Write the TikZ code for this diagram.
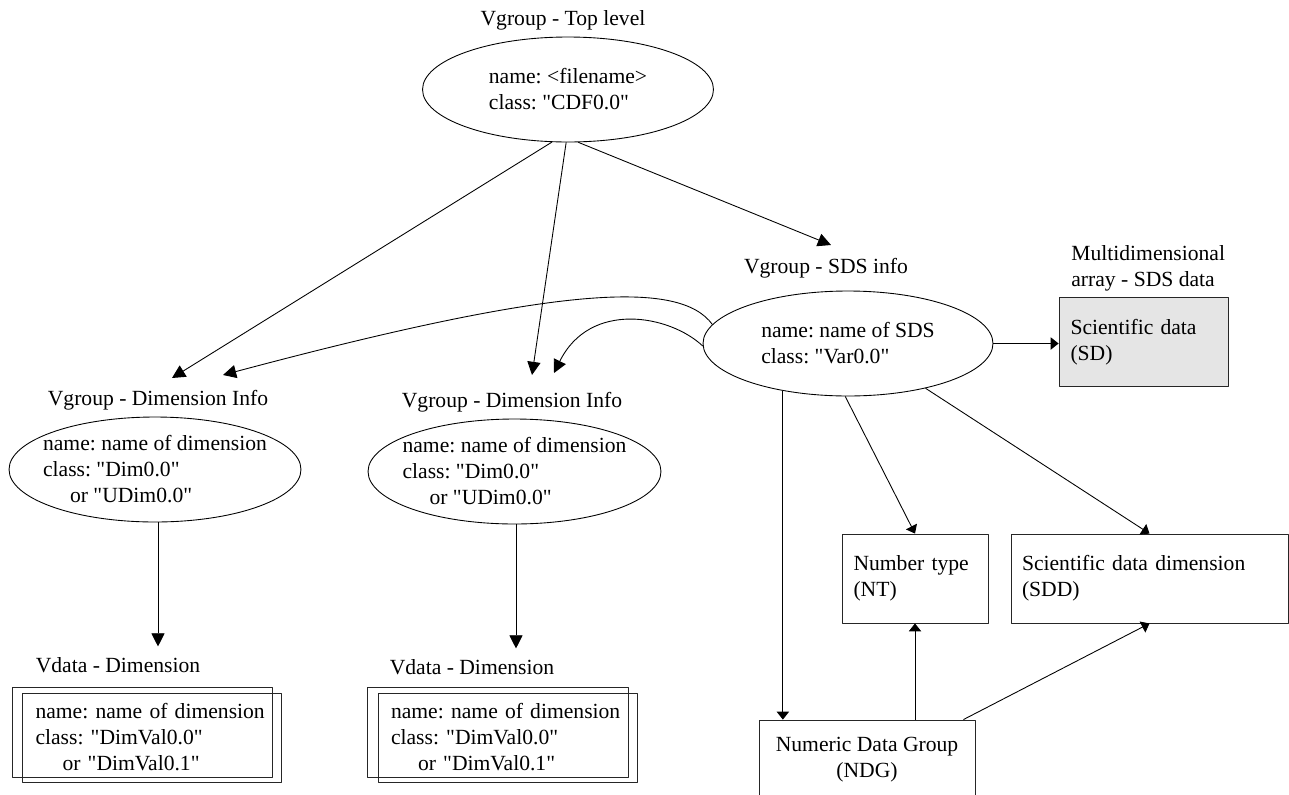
\documentclass[tikz,border=0pt]{standalone}
\usepackage{fontspec}
\setmainfont{Liberation Serif}[Ligatures=TeXOff]
\usetikzlibrary{arrows.meta,calc,shapes.geometric}
\tikzset{
  every node/.style={font=\fontsize{12.3}{14.8}\selectfont\frenchspacing},
  lbl/.style={inner sep=0pt},
  vgroup/.style={draw,ellipse,line width=0.5pt,inner sep=-0.8cm,align=left,
    minimum width=5.82cm,minimum height=2.1cm},
  databox/.style={draw=black!85,line width=0.5pt,align=left,inner ysep=0pt,inner xsep=0.23cm,
    minimum height=1.78cm},
  big/.style={line width=0.5pt,-{Triangle[length=7.5pt,width=7.5pt]}},
  small/.style={line width=0.5pt,-{Triangle[length=4.5pt,width=7pt]}},
}
\begin{document}
\begin{tikzpicture}[x=0.02cm,y=-0.02cm,line join=round]
  \useasboundingbox (0,0) rectangle (1289,795);
  \clip (0,0) rectangle (1289,795);

  \node[lbl] (toplbl) at (563,20) {Vgroup - Top level};
  \node[vgroup] (top) at (568,89.5) {name: <filename>\\class: "CDF0.0"};

  \node[lbl] (sdslbl) at (826,268) {Vgroup - SDS info};
  \node[vgroup,minimum width=5.8cm] (sds) at (848,343.5) {name: name of SDS\\class: "Var0.0"};

  \node[lbl,anchor=west,align=left] (sdlbl) at (1071,268.5) {Multidimensional\\array - SDS data};
  \node[databox,fill=black!10,text width=2.92cm] (sd) at (1143.5,342) {Scientific data\\(SD)};

  \node[lbl] (dim1lbl) at (158,400) {Vgroup - Dimension Info};
  \node[vgroup,minimum width=5.84cm] (dim1) at (155,469.5)
    {name: name of dimension\\class: "Dim0.0"\\\hspace*{0.54cm}or "UDim0.0"};
  \node[lbl] (dim2lbl) at (512,402) {Vgroup - Dimension Info};
  \node[vgroup,minimum width=5.86cm] (dim2) at (514.5,471.5)
    {name: name of dimension\\class: "Dim0.0"\\\hspace*{0.54cm}or "UDim0.0"};

  \node[lbl] (vd1lbl) at (118,665) {Vdata - Dimension};
  \node[databox,inner xsep=0.26cm,text width=4.66cm] (vd1) at (152,737.5)
    {name: name of dimension\\class: "DimVal0.0"\\\hspace*{0.54cm}or "DimVal0.1"};
  \draw[draw=black!85,line width=0.5pt] ($(vd1.north west)+(-10,-5)$) rectangle ($(vd1.south east)+(-9,-5)$);
  \node[lbl] (vd2lbl) at (472,667) {Vdata - Dimension};
  \node[databox,inner xsep=0.26cm,text width=4.66cm] (vd2) at (507.5,737.5)
    {name: name of dimension\\class: "DimVal0.0"\\\hspace*{0.54cm}or "DimVal0.1"};
  \draw[draw=black!85,line width=0.5pt] ($(vd2.north west)+(-10,-5)$) rectangle ($(vd2.south east)+(-9,-5)$);

  \node[databox,text width=2.46cm] (nt) at (915,578.5) {Number type\\(NT)};
  \node[databox,inner xsep=0.22cm,text width=5.10cm] (sdd) at (1149.5,578.5) {Scientific data dimension\\(SDD)};
  \node[databox,align=center,inner xsep=0pt,minimum width=4.32cm,minimum height=1.58cm] (ndg) at (867,759.5)
    {Numeric Data Group\\(NDG)};

  \coordinate (in1a) at (172,378);
  \coordinate (in1b) at (223,375);
  \coordinate (in2a) at (532,375);
  \coordinate (in2b) at (554,373);
  \coordinate (insds) at (831,245);

  \draw[big] (top.253) -- (in1a);
  \draw[big] (top.268) -- (in2a);
  \draw[big] (top.281) -- (insds);
  \draw[big] (sds.172) .. controls (680,280) and (560,285) .. (in1b);
  \draw[big] (sds.181) .. controls (670,315) and (590,300) .. (in2b);
  \draw[big,shorten >=6pt] (dim1.south -| 158,0) -- (158,0 |- vd1lbl.north);
  \draw[big,shorten >=6pt] (dim2.south -| 516,0) -- (516,0 |- vd2lbl.north);

  \draw[small] (sds.east) -- (sds.east -| sd.west);
  \draw[small] (sds.216) -- (sds.216 |- ndg.north);
  \draw[small] (sds.267) -- (nt.north);
  \draw[small] (sds.330) -- (sdd.north);
  \draw[small] (nt.south |- ndg.north) -- (nt.south);
  \draw[small] ($(ndg.north east)+(-12,0)$) -- (sdd.south);
\end{tikzpicture}
\end{document}
